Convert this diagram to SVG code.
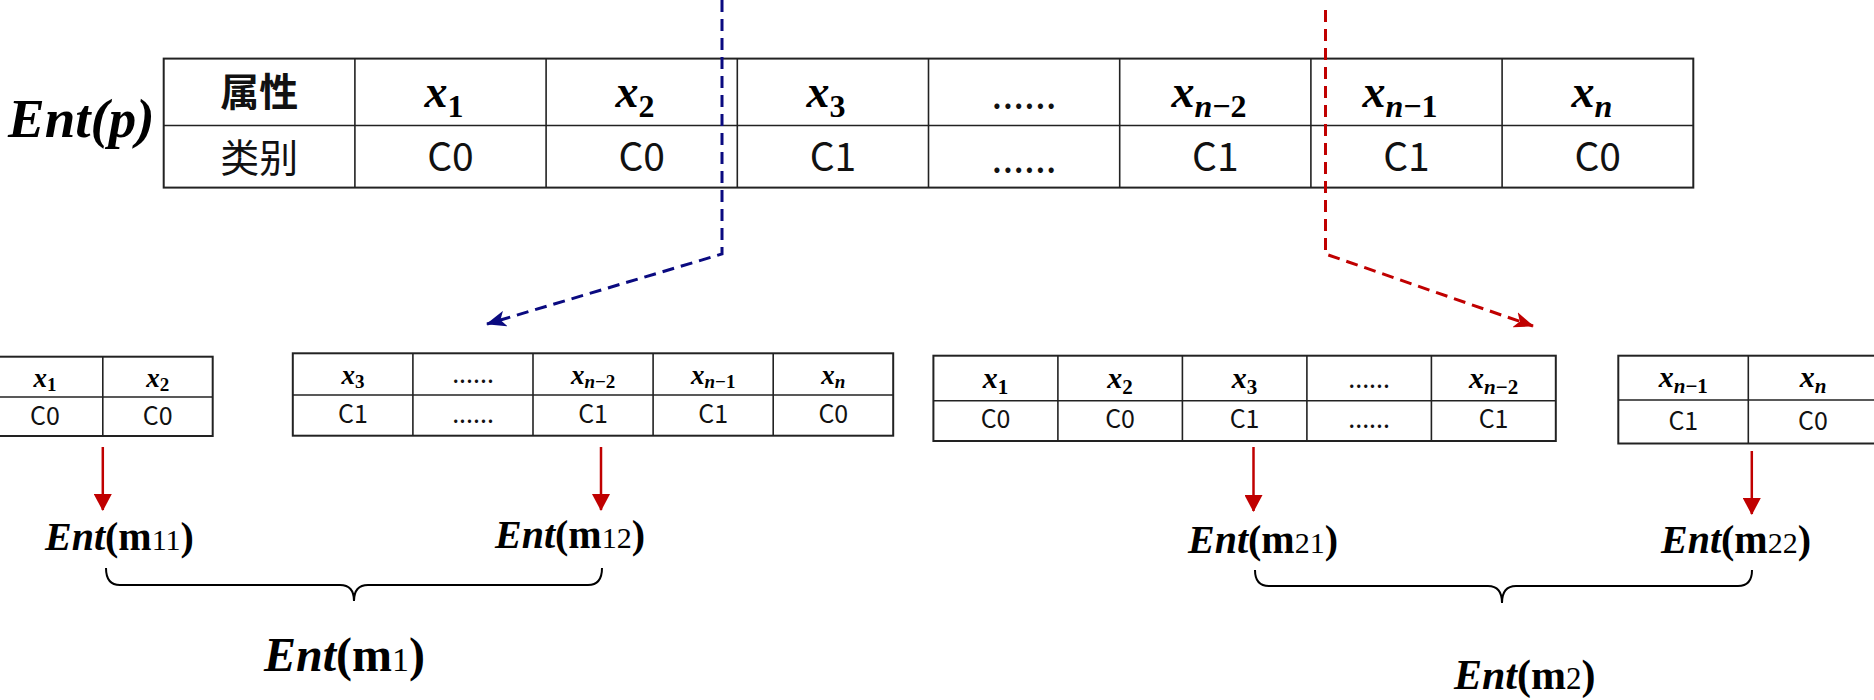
<svg xmlns="http://www.w3.org/2000/svg" width="1874" height="700" viewBox="0 0 1874 700">
<defs>
<style>
.tb{fill:none;stroke:#222;stroke-width:2}
.ln{stroke:#222;stroke-width:1.6}
.cj{font-family:"Noto Sans CJK SC","Noto Sans",sans-serif;font-size:39px;fill:#111;text-anchor:middle}
.cs{font-family:"Noto Sans CJK SC","Noto Sans",sans-serif;font-size:25px;fill:#111;text-anchor:middle}
.xb{font-family:"Liberation Serif",serif;font-weight:bold;font-style:italic;font-size:46px;text-anchor:middle;fill:#000}
.xb .s{font-size:32px;font-style:normal}
.xs{font-family:"Liberation Serif",serif;font-weight:bold;font-style:italic;font-size:27px;text-anchor:middle;fill:#000}
.xs .s{font-size:19px;font-style:normal}
.xc{font-family:"Liberation Serif",serif;font-weight:bold;font-style:italic;font-size:30px;text-anchor:middle;fill:#000}
.xc .s{font-size:21px;font-style:normal}
.xd{font-family:"Liberation Serif",serif;font-weight:bold;font-style:italic;font-size:30px;text-anchor:middle;fill:#000}
.xd .s{font-size:21px;font-style:normal}
.xb .n,.xs .n,.xc .n,.xd .n{font-style:italic}
.ent{font-family:"Liberation Serif",serif;font-weight:bold;font-size:40px;fill:#000}
.ent .i{font-style:italic}
.ent .d{font-weight:normal;font-size:30px}
.dashb{fill:none;stroke:#0a0a80;stroke-width:3;stroke-dasharray:12 7}
.dashr{fill:none;stroke:#c00000;stroke-width:3;stroke-dasharray:12 7}
.arr{stroke:#c00000;stroke-width:2.5;fill:none}
.brace{fill:none;stroke:#000;stroke-width:2}
</style>
<marker id="mb" viewBox="0 0 20 16" refX="19" refY="8" markerWidth="20" markerHeight="16" markerUnits="userSpaceOnUse" orient="auto"><path d="M0,0 L20,8 L0,16 L5,8 z" fill="#0a0a80"/></marker>
<marker id="mr" viewBox="0 0 20 16" refX="19" refY="8" markerWidth="20" markerHeight="16" markerUnits="userSpaceOnUse" orient="auto"><path d="M0,0 L20,8 L0,16 L5,8 z" fill="#c00000"/></marker>
<marker id="mt" viewBox="0 0 17 18" refX="16" refY="9" markerWidth="17" markerHeight="18" markerUnits="userSpaceOnUse" orient="auto"><path d="M0,0 L17,9 L0,18 z" fill="#c00000"/></marker>
</defs>

<g id="label-entp"><text x="8" y="137" style="font-family:'Liberation Serif',serif;font-weight:bold;font-style:italic;font-size:55px">Ent(p)</text></g>

<g id="main-table">
<rect class="tb" x="163.7" y="58.6" width="1529.6" height="129"/>
<line class="ln" x1="163.7" y1="125.5" x2="1693.3" y2="125.5"/>
<line class="ln" x1="354.9" y1="58.6" x2="354.9" y2="187.6"/>
<line class="ln" x1="546.1" y1="58.6" x2="546.1" y2="187.6"/>
<line class="ln" x1="737.3" y1="58.6" x2="737.3" y2="187.6"/>
<line class="ln" x1="928.5" y1="58.6" x2="928.5" y2="187.6"/>
<line class="ln" x1="1119.7" y1="58.6" x2="1119.7" y2="187.6"/>
<line class="ln" x1="1310.9" y1="58.6" x2="1310.9" y2="187.6"/>
<line class="ln" x1="1502.1" y1="58.6" x2="1502.1" y2="187.6"/>
<text class="cj" x="259.3" y="106" font-weight="bold">属性</text>
<text class="xb" x="444" y="107">x<tspan class="s" dy="10">1</tspan></text>
<text class="xb" x="635" y="107">x<tspan class="s" dy="10">2</tspan></text>
<text class="xb" x="826" y="107">x<tspan class="s" dy="10">3</tspan></text>
<text class="cj" x="1024.1" y="109">......</text>
<text class="xb" x="1209" y="107">x<tspan class="s" dy="10"><tspan class="n">n</tspan>−2</tspan></text>
<text class="xb" x="1400" y="107">x<tspan class="s" dy="10"><tspan class="n">n</tspan>−1</tspan></text>
<text class="xb" x="1592" y="107">x<tspan class="s n" dy="10">n</tspan></text>
<text class="cj" x="259.3" y="172">类别</text>
<text class="cj" x="450.5" y="171">C0</text>
<text class="cj" x="641.7" y="171">C0</text>
<text class="cj" x="832.9" y="171">C1</text>
<text class="cj" x="1024.1" y="173">......</text>
<text class="cj" x="1215.3" y="171">C1</text>
<text class="cj" x="1406.5" y="171">C1</text>
<text class="cj" x="1597.7" y="171">C0</text>
</g>

<g id="table-m11">
<rect class="tb" x="-7" y="356.7" width="219.7" height="79.3"/>
<line class="ln" x1="-7" y1="397" x2="212.7" y2="397"/>
<line class="ln" x1="102.8" y1="356.7" x2="102.8" y2="436"/>
<text class="xs" x="45" y="387">x<tspan class="s" dy="4">1</tspan></text>
<text class="xs" x="157.7" y="387">x<tspan class="s" dy="4">2</tspan></text>
<text class="cs" x="45" y="425">C0</text>
<text class="cs" x="157.7" y="425">C0</text>
</g>

<g id="table-m12">
<rect class="tb" x="292.8" y="353.3" width="600.4" height="82.4"/>
<line class="ln" x1="292.8" y1="395" x2="893.2" y2="395"/>
<line class="ln" x1="412.9" y1="353.3" x2="412.9" y2="435.7"/>
<line class="ln" x1="533" y1="353.3" x2="533" y2="435.7"/>
<line class="ln" x1="653.1" y1="353.3" x2="653.1" y2="435.7"/>
<line class="ln" x1="773.2" y1="353.3" x2="773.2" y2="435.7"/>
<text class="xs" x="352.9" y="384">x<tspan class="s" dy="4">3</tspan></text>
<text class="cs" x="473" y="383">......</text>
<text class="xs" x="593.1" y="384">x<tspan class="s" dy="4"><tspan class="n">n</tspan>−2</tspan></text>
<text class="xs" x="713.2" y="384">x<tspan class="s" dy="4"><tspan class="n">n</tspan>−1</tspan></text>
<text class="xs" x="833.3" y="384">x<tspan class="s n" dy="4">n</tspan></text>
<text class="cs" x="352.9" y="423">C1</text>
<text class="cs" x="473" y="423">......</text>
<text class="cs" x="593.1" y="423">C1</text>
<text class="cs" x="713.2" y="423">C1</text>
<text class="cs" x="833.3" y="423">C0</text>
</g>

<g id="table-m21">
<rect class="tb" x="933.4" y="355.7" width="622.4" height="85.3"/>
<line class="ln" x1="933.4" y1="400.7" x2="1555.8" y2="400.7"/>
<line class="ln" x1="1057.9" y1="355.7" x2="1057.9" y2="441"/>
<line class="ln" x1="1182.4" y1="355.7" x2="1182.4" y2="441"/>
<line class="ln" x1="1306.9" y1="355.7" x2="1306.9" y2="441"/>
<line class="ln" x1="1431.4" y1="355.7" x2="1431.4" y2="441"/>
<text class="xc" x="995.6" y="388">x<tspan class="s" dy="6">1</tspan></text>
<text class="xc" x="1120.1" y="388">x<tspan class="s" dy="6">2</tspan></text>
<text class="xc" x="1244.6" y="388">x<tspan class="s" dy="6">3</tspan></text>
<text class="cs" x="1369.1" y="388">......</text>
<text class="xc" x="1493.6" y="388">x<tspan class="s" dy="6"><tspan class="n">n</tspan>−2</tspan></text>
<text class="cs" x="995.6" y="428">C0</text>
<text class="cs" x="1120.1" y="428">C0</text>
<text class="cs" x="1244.6" y="428">C1</text>
<text class="cs" x="1369.1" y="428">......</text>
<text class="cs" x="1493.6" y="428">C1</text>
</g>

<g id="table-m22">
<rect class="tb" x="1618.3" y="355.7" width="260" height="87.8"/>
<line class="ln" x1="1618.3" y1="400" x2="1878" y2="400"/>
<line class="ln" x1="1748.3" y1="355.7" x2="1748.3" y2="443.5"/>
<text class="xd" x="1683.3" y="387">x<tspan class="s" dy="6"><tspan class="n">n</tspan>−1</tspan></text>
<text class="xd" x="1813" y="387">x<tspan class="s n" dy="6">n</tspan></text>
<text class="cs" x="1683.3" y="430">C1</text>
<text class="cs" x="1813" y="430">C0</text>
</g>

<g id="connectors">
<path class="dashb" d="M722,0 L722,254 L487,324" marker-end="url(#mb)"/>
<path class="dashr" d="M1325.5,10 L1325.5,254 L1533,326" marker-end="url(#mr)"/>
<line class="arr" x1="102.8" y1="447" x2="102.8" y2="510" marker-end="url(#mt)"/>
<line class="arr" x1="601" y1="447" x2="601" y2="510" marker-end="url(#mt)"/>
<line class="arr" x1="1253.5" y1="447" x2="1253.5" y2="511" marker-end="url(#mt)"/>
<line class="arr" x1="1751.8" y1="451" x2="1751.8" y2="514" marker-end="url(#mt)"/>
<path class="brace" d="M106,568 Q106,585 120,585 L340,585 Q354,585 354,601 Q354,585 368,585 L588,585 Q602,585 602,568"/>
<path class="brace" d="M1255,570 Q1255,586 1269,586 L1488,586 Q1502,586 1502,603 Q1502,586 1516,586 L1738,586 Q1752,586 1752,570"/>
</g>

<g id="label-m11"><text class="ent" x="45" y="550"><tspan class="i">Ent</tspan>(m<tspan class="d">11</tspan>)</text></g>
<g id="label-m12"><text class="ent" x="495" y="548"><tspan class="i">Ent</tspan>(m<tspan class="d">12</tspan>)</text></g>
<g id="label-m1"><text class="ent" x="264" y="671" style="font-size:48px"><tspan class="i">Ent</tspan>(m<tspan class="d" style="font-size:34px">1</tspan>)</text></g>
<g id="label-m21"><text class="ent" x="1188" y="553"><tspan class="i">Ent</tspan>(m<tspan class="d">21</tspan>)</text></g>
<g id="label-m22"><text class="ent" x="1661" y="553"><tspan class="i">Ent</tspan>(m<tspan class="d">22</tspan>)</text></g>
<g id="label-m2"><text class="ent" x="1454" y="689" style="font-size:42px"><tspan class="i">Ent</tspan>(m<tspan class="d" style="font-size:31px">2</tspan>)</text></g>
</svg>
